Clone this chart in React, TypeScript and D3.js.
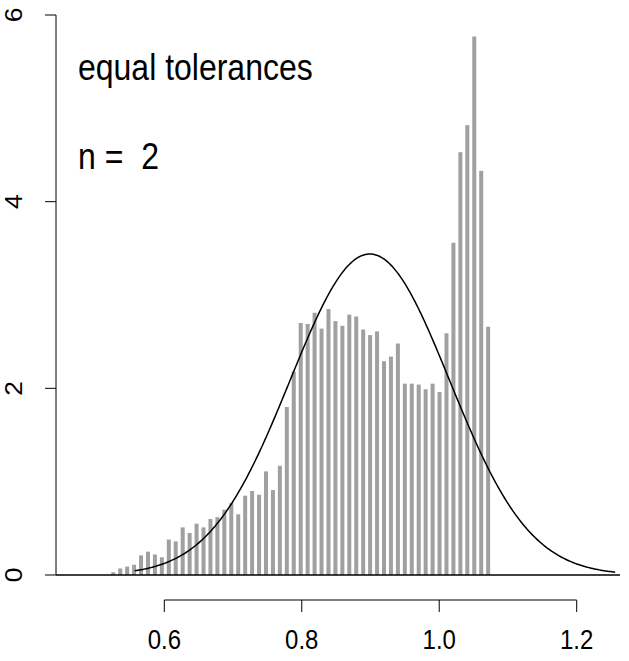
import React from "react";
import * as d3 from "d3";

const binStart = 0.5207;
const binWidth = 0.0101;
const densities = [
  0.03, 0.07, 0.09, 0.11, 0.21, 0.25, 0.22, 0.19, 0.38, 0.36,
  0.51, 0.45, 0.55, 0.51, 0.6, 0.62, 0.7, 0.77, 0.65, 0.85,
  0.9, 0.86, 1.11, 0.91, 1.17, 1.8, 2.18, 2.7, 2.69, 2.81,
  2.64, 2.85, 2.72, 2.67, 2.79, 2.77, 2.63, 2.57, 2.61, 2.29,
  2.34, 2.48, 2.05, 2.05, 2.04, 1.99, 2.05, 1.96, 2.59, 3.56,
  4.53, 4.82, 5.77, 4.33, 2.66,
];
const curveMean = 0.899;
const curveSd = 0.116;
const curveRange = [0.557, 1.256];
const xTicks = [0.6, 0.8, 1.0, 1.2];
const yTicks = [0, 2, 4, 6];
const labelLines = ["equal tolerances", "n =  2"];

export default function App() {
  const W = 629, H = 661;
  const x = d3.scaleLinear().domain([0.6, 1.2]).range([164.3, 576.7]);
  const y = d3.scaleLinear().domain([0, 6]).range([575, 15]);
  const font = "'Liberation Sans', Arial, Helvetica, sans-serif";
  const vs = 1.15;

  const pts = d3.range(0, 301).map((i) => {
    const v = curveRange[0] + ((curveRange[1] - curveRange[0]) * i) / 300;
    const z = (v - curveMean) / curveSd;
    return [v, Math.exp(-0.5 * z * z) / (curveSd * Math.sqrt(2 * Math.PI))] as [number, number];
  });
  const line = d3.line<[number, number]>().x((d) => x(d[0])).y((d) => y(d[1]));
  const barW = 4;

  return (
    <svg width={W} height={H} style={{ position: "absolute", left: 0, top: 0, background: "#fff" }}>
      {densities.map((d, i) => {
        const c = binStart + binWidth * (i + 0.5);
        return (
          <rect key={i} x={x(c) - barW / 2} y={y(d)} width={barW} height={y(0) - y(d)} fill="#a0a0a0" />
        );
      })}
      <line x1={56} x2={620} y1={y(0)} y2={y(0)} stroke="#000" strokeWidth={1.5} />
      <path d={line(pts) || ""} fill="none" stroke="#000" strokeWidth={1.5} />
      {/* y axis */}
      <line x1={56} x2={56} y1={y(6)} y2={y(0)} stroke="#000" strokeWidth={1} />
      {yTicks.map((t) => (
        <g key={t}>
          <line x1={45} x2={56} y1={y(t)} y2={y(t)} stroke="#000" />
          <text
            transform={`translate(22,${y(t)}) rotate(-90) scale(1.1,1)`}
            textAnchor="middle"
            fontFamily={font}
            fontSize={24}
          >
            {t}
          </text>
        </g>
      ))}
      {/* x axis */}
      <line x1={x(0.6)} x2={x(1.2)} y1={600} y2={600} stroke="#000" />
      {xTicks.map((t) => (
        <g key={t}>
          <line x1={x(t)} x2={x(t)} y1={600} y2={612} stroke="#000" />
          <text
            transform={`translate(${x(t)},649) scale(1,${vs})`}
            textAnchor="middle"
            fontFamily={font}
            fontSize={24}
          >
            {t.toFixed(1)}
          </text>
        </g>
      ))}
      {labelLines.map((s, i) => (
        <text
          key={i}
          transform={`translate(78,${80 + i * 89}) scale(1,${vs})`}
          fontFamily={font}
          fontSize={32}
          style={{ whiteSpace: "pre" }}
        >
          {s}
        </text>
      ))}
    </svg>
  );
}
